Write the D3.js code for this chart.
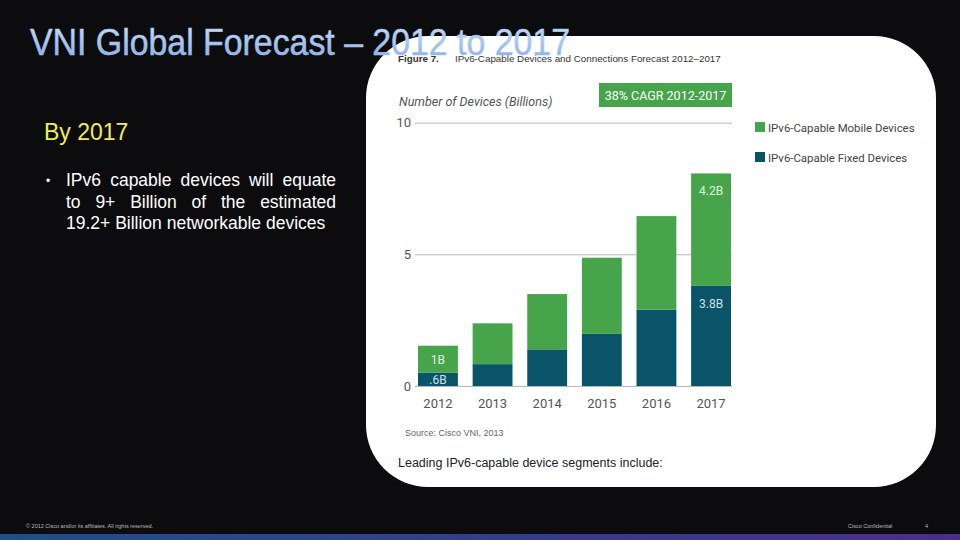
<!DOCTYPE html>
<html>
<head>
<meta charset="utf-8">
<script src="https://cdn.jsdelivr.net/npm/d3@7"></script>
<style>
  body { margin: 0; background: #0c0c0e; }
  svg { display: block; }
</style>
</head>
<body>
<svg id="chart" width="960" height="540"></svg>
<script>
// data (billions of devices)
const years = ["2012", "2013", "2014", "2015", "2016", "2017"];
const fixedDevices = [0.5, 0.83, 1.39, 1.98, 2.9, 3.8];
const mobileDevices = [1.03, 1.55, 2.1, 2.89, 3.55, 4.27];
const yTicks = [0, 5, 10];
const seriesNames = ["IPv6-Capable Mobile Devices", "IPv6-Capable Fixed Devices"];
const barLabels = [
  { year: "2012", key: "fixed", text: ".6B" },
  { year: "2012", key: "mobile", text: "1B" },
  { year: "2017", key: "fixed", text: "3.8B", top: true },
  { year: "2017", key: "mobile", text: "4.2B", top: true }
];

const svg = d3.select("#chart");
const green = "#46a44b";
const teal = "#0a5469";

// bottom gradient strip + title gradient
const defs = svg.append("defs");
const strip = defs.append("linearGradient").attr("id", "strip");
strip.append("stop").attr("offset", "0%").attr("stop-color", "#1c4f8c");
strip.append("stop").attr("offset", "100%").attr("stop-color", "#4a2c8e");
const titleGrad = defs.append("linearGradient").attr("id", "titleGrad")
  .attr("x1", 0).attr("y1", 0).attr("x2", 0).attr("y2", 1);
titleGrad.append("stop").attr("offset", "0%").attr("stop-color", "#cfe0f7");
titleGrad.append("stop").attr("offset", "100%").attr("stop-color", "#7eaae6");

svg.append("rect").attr("x", 0).attr("y", 534).attr("width", 960).attr("height", 6)
  .attr("fill", "url(#strip)");

// white panel holding the figure
svg.append("rect")
  .attr("x", 366).attr("y", 36).attr("width", 570).attr("height", 451)
  .attr("rx", 62).attr("ry", 62)
  .attr("fill", "#fff");

// figure caption
const cap = svg.append("text").attr("x", 398).attr("y", 62)
  .attr("font-family", "Liberation Sans, Arial, sans-serif").attr("font-size", 9.8).attr("fill", "#333");
cap.append("tspan").attr("font-weight", "bold").text("Figure 7.");
cap.append("tspan").attr("x", 455).text("IPv6-Capable Devices and Connections Forecast 2012–2017");

// scales
const x = d3.scaleBand().domain(years).range([418, 731]).paddingInner(0.27).paddingOuter(0);
const y = d3.scaleLinear().domain([0, 10]).range([386, 122.6]);

// y axis / gridlines
svg.append("g")
  .attr("transform", "translate(415,0)")
  .call(d3.axisLeft(y).tickValues(yTicks).tickSize(-(732 - 415)).tickPadding(4).tickFormat(d3.format("d")))
  .call(g => g.select(".domain").remove())
  .call(g => g.selectAll("line").attr("stroke", "#b8b8b8"))
  .call(g => g.selectAll("text").attr("fill", "#555").attr("font-size", 13)
    .attr("font-family", "Roboto, sans-serif"));

svg.append("text").attr("x", 399).attr("y", 106)
  .attr("font-family", "Roboto, sans-serif").attr("font-style", "italic")
  .attr("font-size", 12.5).attr("fill", "#555")
  .text("Number of Devices (Billions)");

// CAGR badge
svg.append("rect").attr("x", 599).attr("y", 83).attr("width", 133).attr("height", 24).attr("fill", green);
svg.append("text").attr("x", 665.5).attr("y", 100).attr("text-anchor", "middle")
  .attr("font-family", "Roboto, sans-serif").attr("font-size", 12.5).attr("fill", "#fff")
  .text("38% CAGR 2012-2017");

// stacked bars
const rows = years.map((yr, i) => ({ year: yr, fixed: fixedDevices[i], mobile: mobileDevices[i] }));
const stack = d3.stack().keys(["fixed", "mobile"])(rows);
const color = d3.scaleOrdinal().domain(["fixed", "mobile"]).range([teal, green]);

svg.append("g")
  .selectAll("g")
  .data(stack)
  .join("g")
  .attr("fill", d => color(d.key))
  .selectAll("rect")
  .data(d => d)
  .join("rect")
  .attr("x", d => x(d.data.year))
  .attr("y", d => y(d[1]))
  .attr("width", x.bandwidth())
  .attr("height", d => y(d[0]) - y(d[1]));

// value labels inside bars
const stackByKey = new Map(stack.map(s => [s.key, s]));
svg.append("g")
  .selectAll("text")
  .data(barLabels)
  .join("text")
  .attr("x", d => x(d.year) + x.bandwidth() / 2)
  .attr("y", d => {
    const seg = stackByKey.get(d.key)[years.indexOf(d.year)];
    return d.top ? y(seg[1]) + 22 : (y(seg[0]) + y(seg[1])) / 2 + 5;
  })
  .attr("text-anchor", "middle")
  .attr("font-family", "Roboto, sans-serif")
  .attr("font-size", 12)
  .attr("fill", d => d.key === "fixed" ? "#cfe0e8" : "#e4f4dc")
  .text(d => d.text);

// x axis labels
svg.append("g")
  .attr("transform", "translate(0,386)")
  .call(d3.axisBottom(x).tickSize(0).tickPadding(13))
  .call(g => g.select(".domain").remove())
  .call(g => g.selectAll("text").attr("fill", "#555").attr("font-size", 13)
    .attr("font-family", "Roboto, sans-serif"));

// legend
const legend = svg.append("g")
  .selectAll("g")
  .data(seriesNames)
  .join("g")
  .attr("transform", (d, i) => `translate(755,${122 + i * 30})`);
legend.append("rect").attr("width", 10).attr("height", 10)
  .attr("fill", (d, i) => i === 0 ? green : teal);
legend.append("text").attr("x", 13).attr("y", 9.5)
  .attr("font-family", "Roboto, sans-serif").attr("font-size", 11.4).attr("fill", "#444")
  .text(d => d);

svg.append("text").attr("x", 405).attr("y", 436)
  .attr("font-family", "Liberation Sans, Arial, sans-serif").attr("font-size", 9).attr("fill", "#666")
  .text("Source: Cisco VNI, 2013");
svg.append("text").attr("x", 398).attr("y", 467)
  .attr("font-family", "Liberation Sans, Arial, sans-serif").attr("font-size", 12.5).attr("fill", "#222")
  .text("Leading IPv6-capable device segments include:");

// slide text
svg.append("text").attr("x", 30).attr("y", 55)
  .attr("font-family", "Liberation Sans, Arial, sans-serif").attr("font-size", 36)
  .attr("fill", "url(#titleGrad)").attr("stroke", "#a9c6ef").attr("stroke-width", 0.5)
  .attr("textLength", 540).attr("lengthAdjust", "spacingAndGlyphs")
  .text("VNI Global Forecast – 2012 to 2017");

svg.append("text").attr("x", 44).attr("y", 140)
  .attr("font-family", "Liberation Sans, Arial, sans-serif").attr("font-size", 23).attr("fill", "#eded5a")
  .text("By 2017");

const body = svg.append("g").attr("font-family", "Liberation Sans, Arial, sans-serif")
  .attr("font-size", 17.5).attr("fill", "#fff");
body.append("text").attr("x", 46).attr("y", 185).text("•").attr("font-size", 12);
const lines = [
  { t: "IPv6 capable devices will equate", y: 186, just: true },
  { t: "to 9+ Billion of the estimated", y: 207.5, just: true },
  { t: "19.2+ Billion networkable devices", y: 229, just: false }
];
// justify the first lines by widening the gaps between words
lines.forEach(l => {
  const t = body.append("text").attr("x", 66).attr("y", l.y).text(l.t);
  if (l.just) {
    const gaps = l.t.split(" ").length - 1;
    const w = t.node().getComputedTextLength();
    t.attr("word-spacing", (270 - w) / gaps);
  }
});

// footer
svg.append("text").attr("x", 26).attr("y", 528)
  .attr("font-family", "Liberation Sans, Arial, sans-serif").attr("font-size", 5.5).attr("fill", "#bbb")
  .text("© 2012 Cisco and/or its affiliates. All rights reserved.");
svg.append("text").attr("x", 848).attr("y", 528)
  .attr("font-family", "Liberation Sans, Arial, sans-serif").attr("font-size", 5.5).attr("fill", "#bbb")
  .text("Cisco Confidential");
svg.append("text").attr("x", 925).attr("y", 528)
  .attr("font-family", "Liberation Sans, Arial, sans-serif").attr("font-size", 5.5).attr("fill", "#bbb")
  .text("4");
</script>
</body>
</html>
